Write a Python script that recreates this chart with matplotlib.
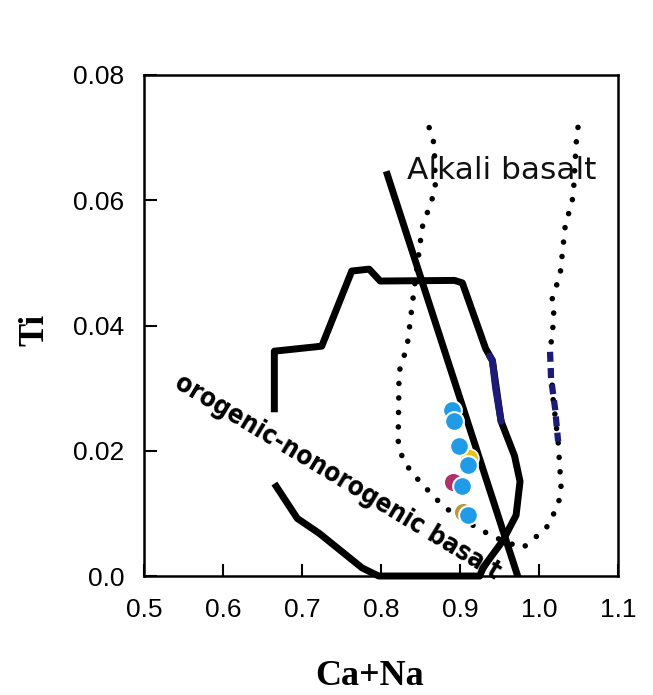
import numpy as np
import matplotlib.pyplot as plt

# solid boundary of the orogenic / nonorogenic basalt field
field_x = np.array([0.665, 0.665, 0.725, 0.763, 0.785, 0.799, 0.893, 0.903, 0.9325, 0.941,
                    0.952, 0.969, 0.976, 0.971, 0.954, 0.929, 0.925, 0.797, 0.776, 0.722,
                    0.694, 0.6675])
field_y = np.array([0.0267, 0.0359, 0.0367, 0.0487, 0.0490, 0.0471, 0.0472, 0.0468, 0.0363, 0.0344,
                    0.0247, 0.0192, 0.0151, 0.0097, 0.0056, 0.0013, 0.0, 0.0, 0.0013, 0.0068,
                    0.0092, 0.0143])
# straight divider
div_x = np.array([0.808, 0.973])
div_y = np.array([0.0641, 0.0])
# dotted U-shaped alkali basalt field
alk_x = np.array([0.861, 0.8675, 0.8688, 0.8522, 0.842, 0.8331, 0.8229, 0.8217, 0.828, 0.8433,
                  0.8688, 0.8904, 0.9287, 0.9541, 0.9796, 1.0089, 1.0242, 1.028, 1.0242, 1.0178,
                  1.014, 1.0191, 1.0166, 1.0268, 1.0331, 1.0433, 1.0471, 1.0497])
alk_y = np.array([0.0716, 0.0689, 0.0617, 0.0557, 0.0458, 0.0367, 0.0326, 0.0216, 0.0184, 0.0159,
                  0.0124, 0.0100, 0.0072, 0.0056, 0.0045, 0.0076, 0.0113, 0.0140, 0.0215, 0.0283,
                  0.0358, 0.0414, 0.0442, 0.0482, 0.0558, 0.0606, 0.0692, 0.0720])
# coloured overprints
blue_solid_x = np.array([0.9376, 0.941, 0.9452, 0.952])
blue_solid_y = np.array([0.0351, 0.0344, 0.0299, 0.0247])
blue_dash_x = np.array([1.014, 1.0153, 1.0204, 1.0242])
blue_dash_y = np.array([0.0358, 0.0315, 0.0267, 0.0215])

# clinopyroxene analyses
other_x = [0.891, 0.911, 0.904]
other_y = [0.01495, 0.01877, 0.0103]
other_c = ['#b0306a', '#e8c21a', '#b89a3a']
samp_x = [0.8905, 0.8925, 0.899, 0.910, 0.903, 0.910]
samp_y = [0.0265, 0.0247, 0.0207, 0.0177, 0.0143, 0.0098]

xticks = [0.5, 0.6, 0.7, 0.8, 0.9, 1.0, 1.1]
xlabels = ['0.5', '0.6', '0.7', '0.8', '0.9', '1.0', '1.1']
yticks = [0.0, 0.02, 0.04, 0.06, 0.08]
ylabels = ['0.0', '0.02', '0.04', '0.06', '0.08']

fig = plt.figure(figsize=(6.53, 6.95), dpi=100)
ax = fig.add_axes([0.2205, 0.1712, 0.7259, 0.7209])

ax.plot(field_x, field_y, color='black', lw=5, solid_joinstyle='round', clip_on=False, zorder=2)
ax.plot(blue_solid_x, blue_solid_y, color='#1c1c78', lw=5, solid_capstyle='round', zorder=2.1)
ax.plot(div_x, div_y, color='black', lw=5, zorder=2)
ax.plot(alk_x, alk_y, color='black', lw=4, linestyle=(0, (0.01, 2.6)),
        dash_capstyle='round', zorder=2)
ax.plot(blue_dash_x, blue_dash_y, color='#1c1c78', lw=4.5, linestyle=(0, (1.6, 1.0)), zorder=2.1)

for x, y, c in zip(other_x, other_y, other_c):
    ax.plot(x, y, 'o', color=c, ms=13.5, mec='white', mew=1.2, zorder=3)
ax.plot(samp_x, samp_y, 'o', color='#1f9be8', ms=13.5, mec='white', mew=1.5, zorder=4)

ax.text(0.745, 0.0158, 'orogenic-nonorogenic basalt', rotation=-31, ha='center', va='center',
        rotation_mode='anchor', fontsize=18.5, fontweight='bold', fontstretch='condensed',
        family='DejaVu Sans', zorder=5)
ax.text(0.833, 0.0648, 'Alkali basalt', ha='left', va='center', fontsize=22.5,
        family='DejaVu Sans', color='#111111', zorder=5)

ax.set_xlim(0.5, 1.1)
ax.set_ylim(0.0, 0.08)
ax.set_xticks(xticks)
ax.set_xticklabels(xlabels)
ax.set_yticks(yticks)
ax.set_yticklabels(ylabels)
ax.tick_params(direction='in', length=9, width=1.5, labelsize=19, pad=14)
ax.tick_params(axis='x', pad=16)
for lab in ax.get_xticklabels() + ax.get_yticklabels():
    lab.set_family('Liberation Sans')
for sp in ax.spines.values():
    sp.set_linewidth(1.8)

fig.text(0.054, 0.525, 'Ti', rotation=90, ha='center', va='center', fontsize=25,
         fontweight='bold', family='Liberation Serif')
fig.text(0.566, 0.014, 'Ca+Na', ha='center', va='baseline', fontsize=26,
         fontweight='bold', family='Liberation Serif')

plt.savefig('out.png', dpi=100)
